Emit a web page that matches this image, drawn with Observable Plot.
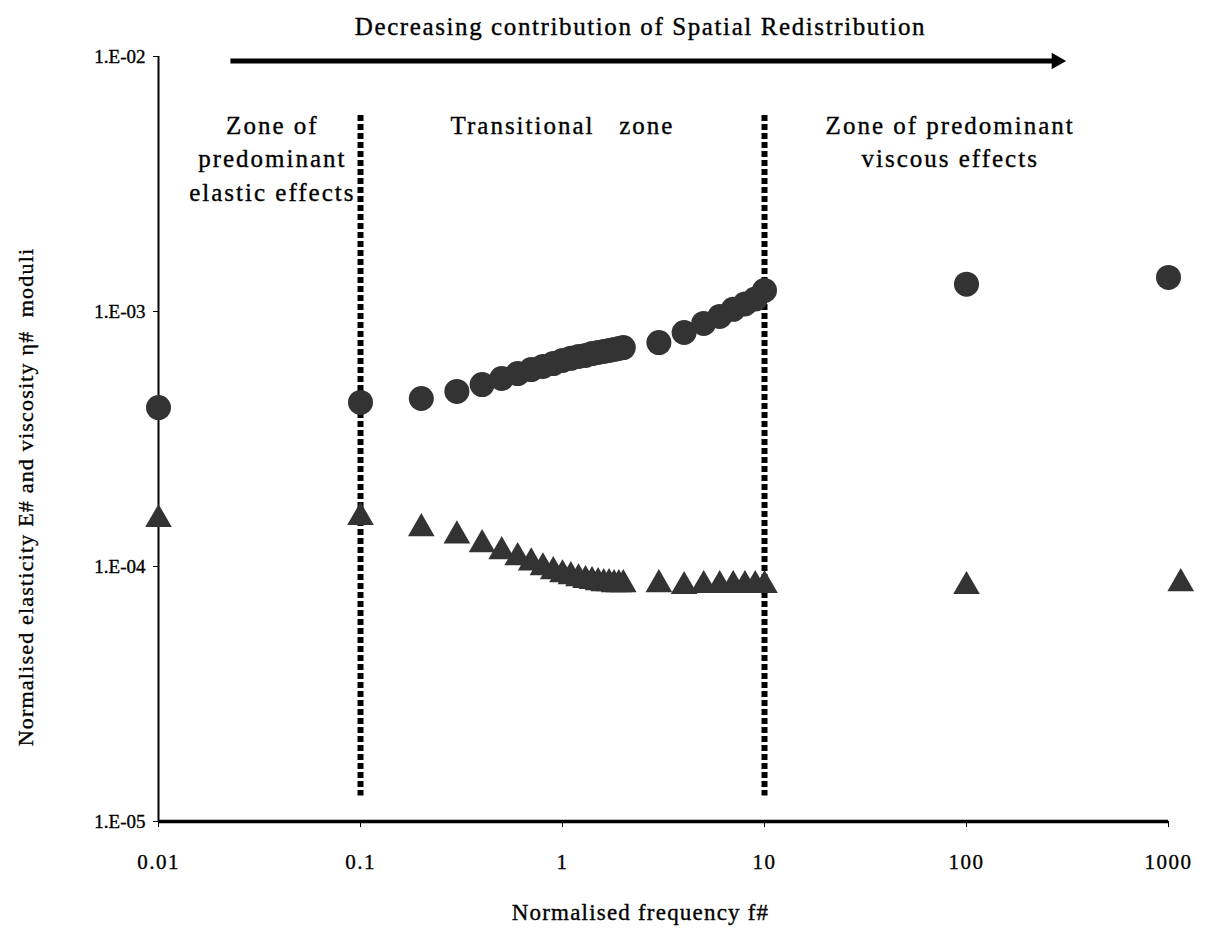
<!DOCTYPE html>
<html><head><meta charset="utf-8">
<script src="https://cdn.jsdelivr.net/npm/d3@7"></script>
<script src="https://cdn.jsdelivr.net/npm/@observablehq/plot@0.6"></script>
<style>body{margin:0;background:#fff;} svg{display:block;} svg text{stroke:#000;stroke-width:0.35px;}</style>
</head><body><div id="chart"></div>
<script>
// Normalised frequency f#
const freq = [0.01, 0.1, 0.2, 0.3, 0.4, 0.5, 0.6, 0.7, 0.8, 0.9, 1.0, 1.1, 1.2, 1.3, 1.4, 1.5, 1.6, 1.7, 1.8, 1.9, 2.0, 3, 4, 5, 6, 7, 8, 9, 10, 100, 1000];
// Normalised elasticity E# (circles)
const elasticity = [4.20e-4, 4.40e-4, 4.56e-4, 4.86e-4, 5.17e-4, 5.46e-4, 5.71e-4, 5.92e-4, 6.09e-4, 6.25e-4, 6.43e-4, 6.55e-4, 6.66e-4, 6.72e-4, 6.84e-4, 6.91e-4, 6.97e-4, 7.03e-4, 7.10e-4, 7.16e-4, 7.22e-4, 7.55e-4, 8.27e-4, 8.98e-4, 9.56e-4, 1.02e-3, 1.07e-3, 1.12e-3, 1.21e-3, 1.28e-3, 1.36e-3];
// Normalised viscosity η# (triangles)
const viscosityFreq = [0.01, 0.1, 0.2, 0.3, 0.4, 0.5, 0.6, 0.7, 0.8, 0.9, 1.0, 1.1, 1.2, 1.3, 1.4, 1.5, 1.6, 1.7, 1.8, 1.9, 2.0, 3, 4, 5, 6, 7, 8, 9, 10, 100, 1150];
const viscosity = [1.53e-4, 1.56e-4, 1.41e-4, 1.32e-4, 1.22e-4, 1.145e-4, 1.085e-4, 1.035e-4, 9.9e-5, 9.56e-5, 9.3e-5, 9.14e-5, 8.97e-5, 8.82e-5, 8.74e-5, 8.66e-5, 8.58e-5, 8.58e-5, 8.5e-5, 8.5e-5, 8.5e-5, 8.5e-5, 8.36e-5, 8.43e-5, 8.43e-5, 8.43e-5, 8.43e-5, 8.43e-5, 8.43e-5, 8.36e-5, 8.58e-5];

const xTicks = [0.01, 0.1, 1, 10, 100, 1000];
const xTickLabels = ["0.01", "0.1", "1", "10", "100", "1000"];
const yTicks = [1e-5, 1e-4, 1e-3, 1e-2];
const yTickLabels = ["1.E-05", "1.E-04", "1.E-03", "1.E-02"];

const zoneBoundaries = [0.1, 10];
const zoneLabels = [
  {f: 0.0366, label: "Zone of\npredominant\nelastic effects"},
  {f: 1.0, label: "Transitional   zone"},
  {f: 83, label: "Zone of predominant\nviscous effects"}
];
const titleText = "Decreasing contribution of Spatial Redistribution";
const xLabel = "Normalised frequency f#";
const yLabel = "Normalised elasticity E# and viscosity η#  moduli";

const eData = freq.map((f, i) => ({f, v: elasticity[i]}));
const vData = viscosityFreq.map((f, i) => ({f, v: viscosity[i]}));

const font = "'Liberation Serif', 'DejaVu Serif', serif";
const ink = "#333333";

const chart = Plot.plot({
  width: 1212,
  height: 938,
  marginLeft: 158,
  marginRight: 44,
  marginTop: 56,
  marginBottom: 117,
  style: {fontFamily: font, color: "black", background: "white"},
  x: {type: "log", domain: [0.01, 1000]},
  y: {type: "log", domain: [1e-5, 1e-2]},
  marks: [
    Plot.ruleX([0.01], {y1: 1e-5, y2: 1e-2, stroke: "black", strokeWidth: 2}),
    Plot.ruleY([1e-5], {x1: 0.01, x2: 1000, stroke: "black", strokeWidth: 3.5}),
    Plot.axisX({ticks: xTicks, tickFormat: d => xTickLabels[xTicks.indexOf(d)], tickSize: 6, tickPadding: 27, fontSize: 21, label: null, stroke: "black"}),
    Plot.axisY({ticks: yTicks, tickFormat: d => yTickLabels[yTicks.indexOf(d)], tickSize: 5, tickPadding: 8, fontSize: 19, label: null, stroke: "black"}),
    Plot.ruleX(zoneBoundaries, {y1: 5.87e-3, y2: 1.26e-5, stroke: "black", strokeWidth: 6, strokeDasharray: "6,3"}),
    Plot.dot(eData, {x: "f", y: "v", r: 12.5, fill: ink, symbol: "circle"}),
    Plot.dot(vData, {x: "f", y: "v", r: 9.9, fill: ink, symbol: "triangle"}),
    Plot.link([0], {x1: 0.0227, x2: 279, y1: 9.6e-3, y2: 9.6e-3, stroke: "black", strokeWidth: 5}),
    Plot.dot([0], {x: () => 279, y: () => 9.6e-3, symbol: "triangle", rotate: 90, r: 6.2, fill: "black"}),
    Plot.text([titleText], {frameAnchor: "top", dy: -39, dx: -23, fontSize: 25, fill: "black"}),
    Plot.text(zoneLabels, {x: "f", text: "label", frameAnchor: "top", lineAnchor: "top", dy: 54, fontSize: 25, lineHeight: 1.33, fill: "black"}),
    Plot.text([xLabel], {frameAnchor: "bottom", dy: 98, dx: -23, fontSize: 23, fill: "black"}),
    Plot.text([yLabel], {frameAnchor: "left", textAnchor: "middle", dx: -133, dy: 58, rotate: -90, fontSize: 22, fill: "black"})
  ]
});
// letter spacing to mimic the wide serif of the original
const spacing = [1.6, 2, 1.2, 1.2];
d3.select(chart).selectAll('g[aria-label="text"]').each(function(d, i) {
  d3.select(this).style("letter-spacing", spacing[i] + "px");
});
d3.select(chart).selectAll('g[aria-label="x-axis tick label"]').style("letter-spacing", "1.5px");
document.getElementById("chart").appendChild(chart);
</script>
</body></html>
